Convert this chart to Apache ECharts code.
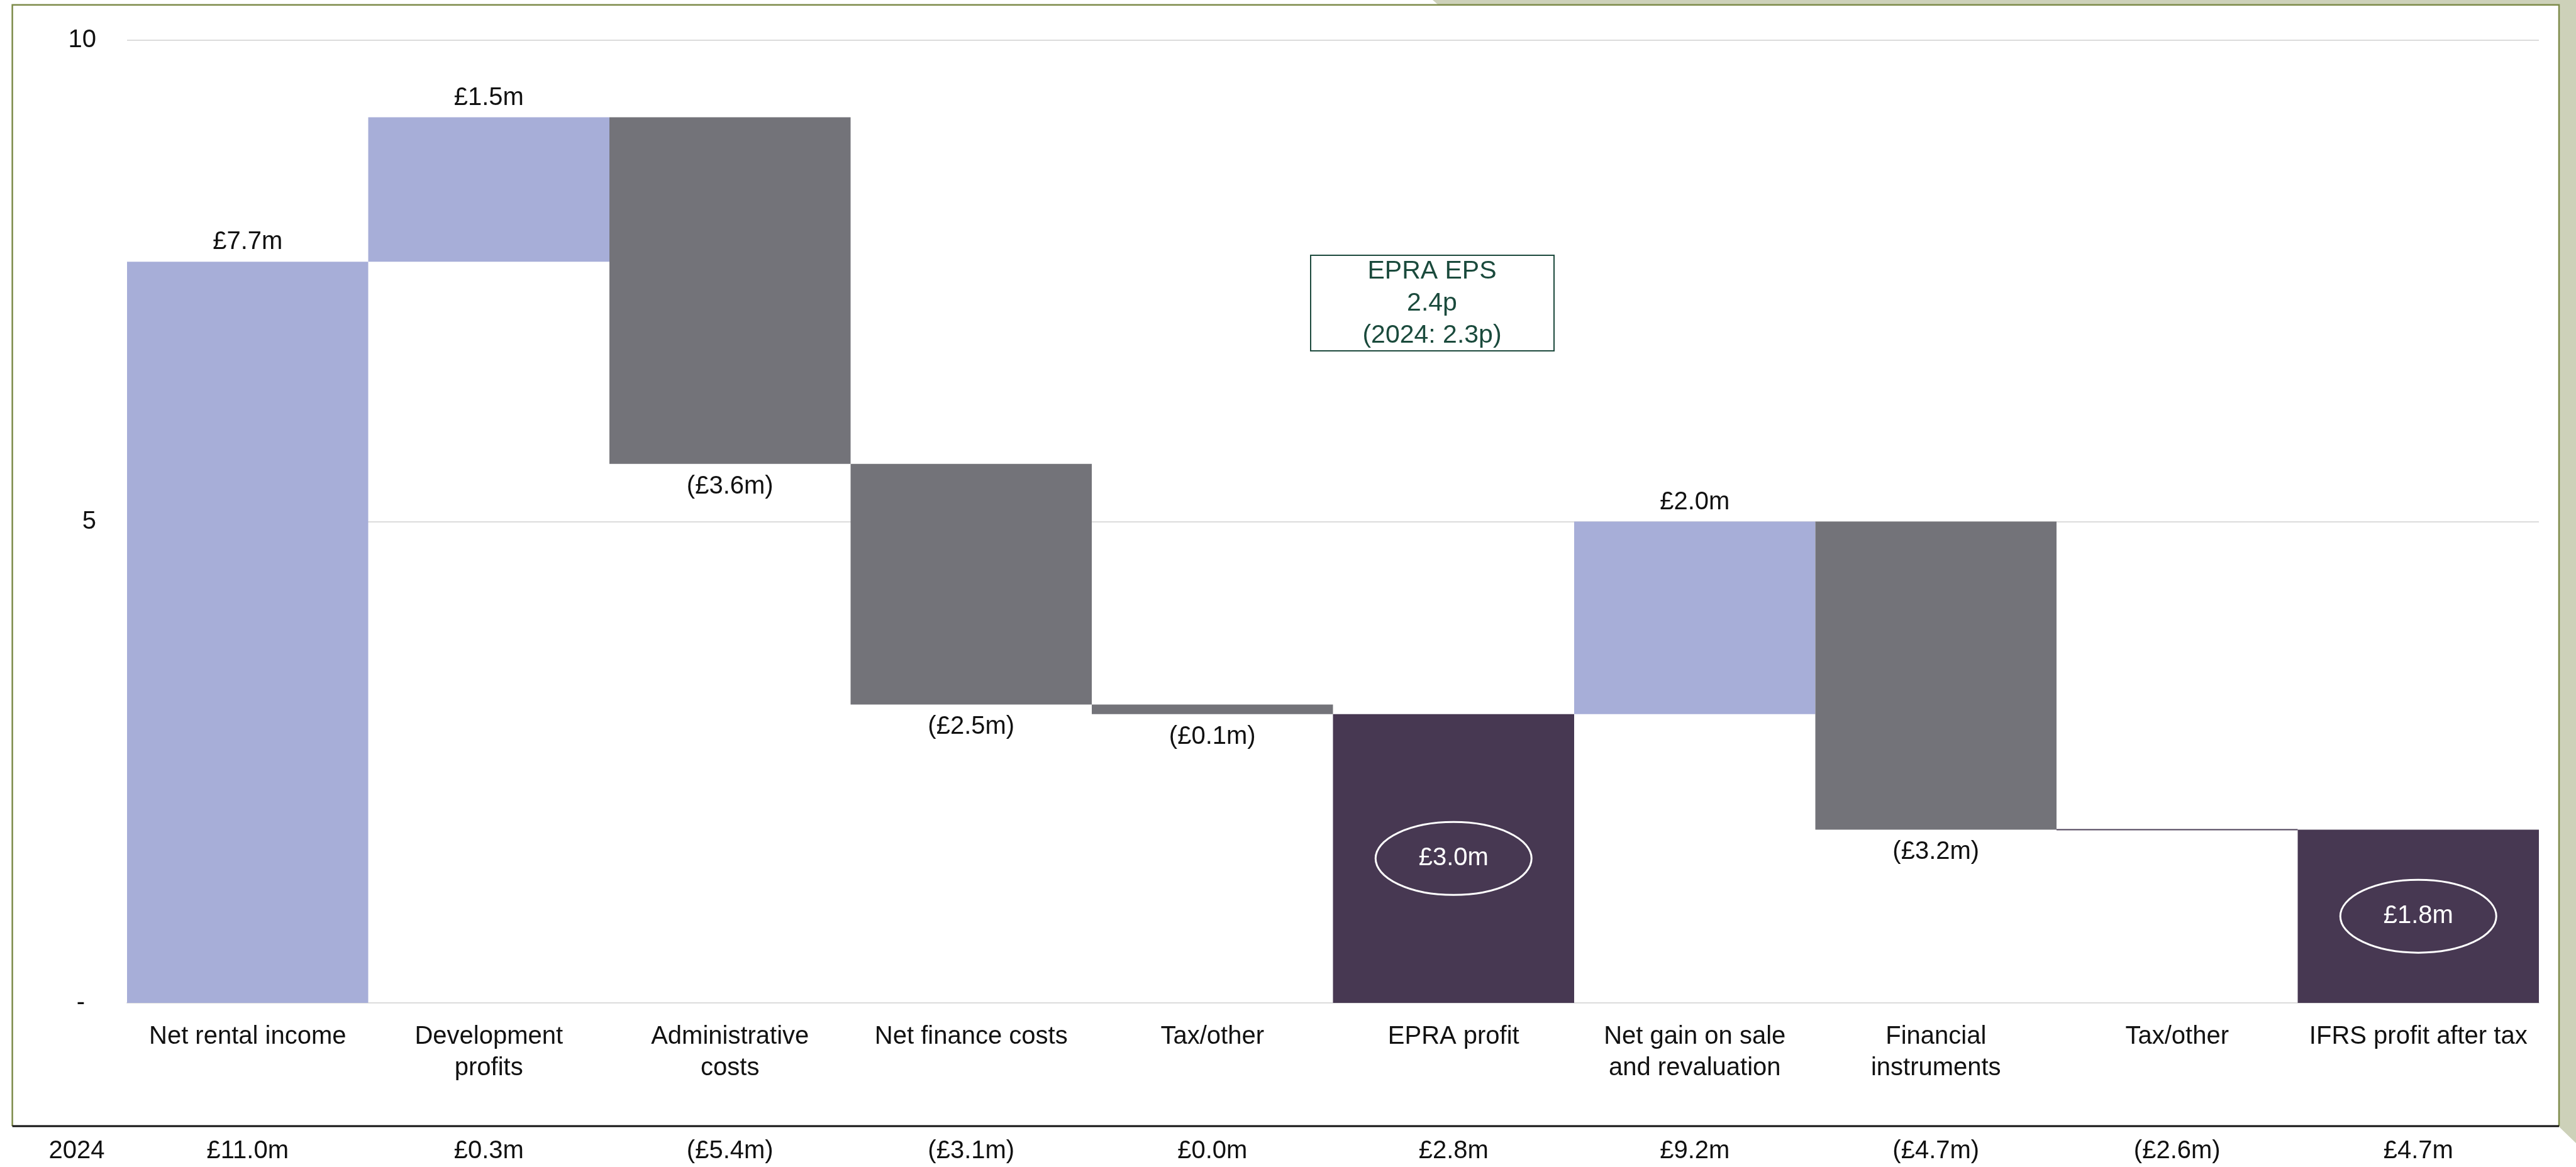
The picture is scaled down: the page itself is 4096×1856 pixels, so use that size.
<!DOCTYPE html>
<html>
<head>
<meta charset="utf-8">
<script src="https://cdn.jsdelivr.net/npm/echarts@6/dist/echarts.min.js"></script>
<style>
html, body { margin: 0; padding: 0; background: #ffffff; }
#chart { width: 4096px; height: 1856px; }
</style>
</head>
<body>
<div id="chart"></div>
<script>
// Profit bridge for the year, £m
const categories = [
  'Net rental income', 'Development\nprofits', 'Administrative\ncosts', 'Net finance costs',
  'Tax/other', 'EPRA profit', 'Net gain on sale\nand revaluation', 'Financial\ninstruments',
  'Tax/other', 'IFRS profit after tax'
];
// movement of each step; subtotal steps carry the running total
const movements = [7.7, 1.5, -3.6, -2.5, -0.1, 3.0, 2.0, -3.2, 0.0, 1.8];
const subtotalSteps = [false, false, false, false, false, true, false, false, false, true];

// prior year comparatives shown under the axis
const priorYearLabel = '2024';
const priorYearValues = ['£11.0m', '£0.3m', '(£5.4m)', '(£3.1m)', '£0.0m', '£2.8m', '£9.2m', '(£4.7m)', '(£2.6m)', '£4.7m'];

const yTicks = [0, 5, 10];
const yTickLabels = ['-', '5', '10'];

const epsNote = ['EPRA EPS', '2.4p', '(2024: 2.3p)'];

const FONT = '"Liberation Sans", Arial, Helvetica, sans-serif';
const TEXT = '#111111';
const COLORS = { up: '#a7aed8', down: '#737379', total: '#473852', flat: '#4d4159' };

function money(v) {
  const s = '£' + Math.abs(v).toFixed(1) + 'm';
  return v < 0 ? '(' + s + ')' : s;
}

// build the floating bars: [index, low, high, movement]
const kinds = [];
const steps = [];
let running = 0;
movements.forEach((m, i) => {
  let lo, hi;
  if (subtotalSteps[i]) {
    lo = 0; hi = m; running = m;
    kinds.push('total');
  } else {
    const next = Math.round((running + m) * 10) / 10;
    lo = Math.min(running, next); hi = Math.max(running, next);
    running = next;
    kinds.push(m > 0 ? 'up' : (m < 0 ? 'down' : 'flat'));
  }
  steps.push([i, lo, hi, m]);
});

function renderStep(params, api) {
  const i = api.value(0);
  const lo = api.value(1);
  const hi = api.value(2);
  const m = api.value(3);
  const kind = kinds[i];
  const pTop = api.coord([i, hi]);
  const pBot = api.coord([i, lo]);
  const w = api.size([1, 0])[0];
  const x = pTop[0] - w / 2;
  let y = pTop[1];
  let h = pBot[1] - pTop[1];
  if (h < 2) { y = pBot[1] - 1; h = 2; }
  const children = [{
    type: 'rect',
    shape: { x: x, y: y, width: w, height: h },
    style: { fill: COLORS[kind] }
  }];
  const labelStyle = { fontSize: 40, fontFamily: FONT, align: 'center', verticalAlign: 'middle' };
  if (kind === 'total') {
    const cx = pTop[0], cy = y + h / 2, rx = 124, ry = 58;
    children.push({
      type: 'path',
      shape: {
        pathData: 'M ' + (cx - rx) + ' ' + cy + ' A ' + rx + ' ' + ry + ' 0 1 0 ' + (cx + rx) + ' ' + cy +
                  ' A ' + rx + ' ' + ry + ' 0 1 0 ' + (cx - rx) + ' ' + cy + ' Z'
      },
      style: { fill: 'none', stroke: '#ffffff', lineWidth: 3 }
    });
    children.push({
      type: 'text', x: cx, y: cy,
      style: Object.assign({ text: money(m), fill: '#ffffff' }, labelStyle)
    });
  } else if (kind === 'up') {
    children.push({
      type: 'text', x: pTop[0], y: y - 31,
      style: Object.assign({ text: money(m), fill: TEXT }, labelStyle)
    });
  } else if (kind === 'down') {
    children.push({
      type: 'text', x: pTop[0], y: y + h + 36,
      style: Object.assign({ text: money(m), fill: TEXT }, labelStyle)
    });
  }
  return { type: 'group', children: children };
}

const chart = echarts.init(document.getElementById('chart'), null, { renderer: 'canvas' });

const option = {
  backgroundColor: '#ffffff',
  animation: false,
  textStyle: { fontFamily: FONT },
  grid: { left: 202, right: 59, top: 64, bottom: 261, containLabel: false },
  xAxis: [
    {
      type: 'category',
      data: categories,
      axisTick: { show: false },
      axisLine: { show: true, lineStyle: { color: '#dcdcdc', width: 2 } },
      axisLabel: {
        interval: 0, margin: 29, fontSize: 40, lineHeight: 50,
        color: TEXT, fontFamily: FONT
      }
    },
    {
      type: 'category',
      data: categories,
      position: 'bottom',
      gridIndex: 0,
      axisTick: { show: false },
      axisLine: { show: false },
      splitLine: { show: false },
      axisLabel: {
        interval: 0, margin: 216, fontSize: 40, lineHeight: 40,
        color: TEXT, fontFamily: FONT,
        formatter: (v, idx) => priorYearValues[idx]
      }
    }
  ],
  yAxis: {
    type: 'value',
    min: 0, max: 10, interval: 5,
    axisLine: { show: false },
    axisTick: { show: false },
    splitLine: { show: true, lineStyle: { color: '#dcdcdc', width: 2 } },
    axisLabel: {
      margin: 49, fontSize: 40, color: TEXT, fontFamily: FONT,
      formatter: v => {
        const lbl = yTickLabels[yTicks.indexOf(v)];
        return v === 0 ? '{dash|' + lbl + '}' : lbl;
      },
      rich: { dash: { fontSize: 40, color: TEXT, fontFamily: FONT, padding: [0, 18, 0, 0] } }
    }
  },
  series: [{
    type: 'custom',
    xAxisIndex: 0,
    renderItem: renderStep,
    encode: { x: 0, y: [1, 2] },
    data: steps,
    z: 3
  }],
  graphic: [
    // backing page visible to the upper right
    {
      type: 'polygon', silent: true, z: 0,
      shape: { points: [[2278, 0], [4096, 0], [4096, 1818], [4069, 1792], [4069, 7.7], [2287, 7.7]] },
      style: { fill: '#cdd1b9' }
    },
    // panel frame
    {
      type: 'polyline', silent: true, z: 1,
      shape: { points: [[19.6, 1791], [19.6, 7.7], [4069, 7.7], [4069, 1791]] },
      style: { stroke: '#7d8b4a', lineWidth: 2.5, fill: null }
    },
    {
      type: 'line', silent: true, z: 1,
      shape: { x1: 19.6, y1: 1791, x2: 4069, y2: 1791 },
      style: { stroke: '#111111', lineWidth: 2.8 }
    },
    {
      type: 'text', silent: true, z: 2,
      x: 122, y: 1831,
      style: { text: priorYearLabel, fill: TEXT, fontSize: 40, fontFamily: FONT, align: 'center', verticalAlign: 'middle' }
    },
    // EPRA EPS callout
    {
      type: 'rect', silent: true, z: 2,
      shape: { x: 2084, y: 406, width: 387, height: 152 },
      style: { fill: '#ffffff', stroke: '#1d4a3d', lineWidth: 2 }
    },
    {
      type: 'text', silent: true, z: 3,
      x: 2277, y: 483,
      style: {
        text: epsNote.join('\n'), fill: '#1a4a3c', fontSize: 41, lineHeight: 51,
        fontFamily: FONT, align: 'center', verticalAlign: 'middle'
      }
    }
  ]
};

chart.setOption(option);
</script>
</body>
</html>
